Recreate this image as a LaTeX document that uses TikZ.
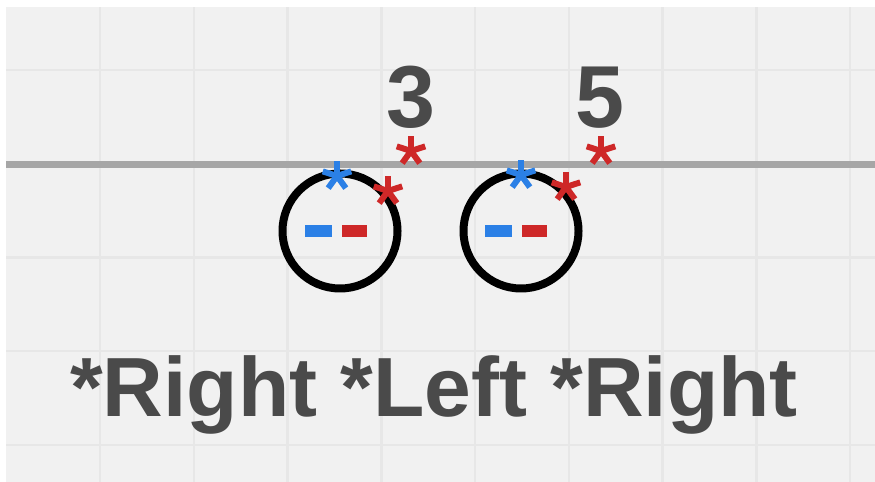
\documentclass[tikz,border=0pt]{standalone}
\usepackage{fontspec}
\setmainfont{Liberation Sans}
\usepackage{xcolor}
\definecolor{paper}{RGB}{241,241,241}
\definecolor{gridgray}{RGB}{231,231,231}
\definecolor{axisgray}{RGB}{166,166,166}
\definecolor{textgray}{RGB}{74,74,74}
\definecolor{starblue}{RGB}{43,128,230}
\definecolor{starred}{RGB}{206,40,40}

\begin{document}
\begin{tikzpicture}[
    x=1bp, y=1bp,
    gridline/.style={gridgray, line width=2.5bp},
    ring/.style={circle, draw=black, line width=8bp,
                 minimum size=115bp, inner sep=0pt},
    bar/.style={line width=12bp},
    numlabel/.style={font=\fontsize{88bp}{88bp}\selectfont\bfseries,
                     text=textgray, anchor=base, inner sep=0pt},
    aster/.pic={
        \foreach \a in {90,18,162,-54,-126}
            \draw[line width=6bp, pic actions] (0,0) -- (\a:15);
    }
]
    \useasboundingbox (0,0) rectangle (875,482);
    % Paper and grid
    \fill[white] (0,0) rectangle (875,482);
    \fill[paper] (6,0) rectangle (875,475);
    \foreach \k in {0,...,8}
        \draw[gridline] (100+93.75*\k,0) -- (100+93.75*\k,475);
    \foreach \k in {0,...,4}
        \draw[gridline] (6,37+93.75*\k) -- (875,37+93.75*\k);

    % Line
    \draw[axisgray, line width=7bp] (6,317) -- (875,317);

    % Numbers
    \node[numlabel] (n3) at (411,354) {3};
    \node[numlabel] (n5) at (600,354) {5};

    % Circle 1
    \node[ring] (c1) at (340,251) {};
    \draw[bar, starblue] (305,251) -- (332,251);
    \draw[bar, starred] (342,251) -- (367,251);
    \pic[starblue] at (337,306) {aster};
    \pic[starred] at (388,291) {aster};
    \pic[starred] at (411,331) {aster};

    % Circle 2
    \node[ring] (c2) at (521,251) {};
    \draw[bar, starblue] (485,251) -- (512,251);
    \draw[bar, starred] (522,251) -- (547,251);
    \pic[starblue] at (521,307) {aster};
    \pic[starred] at (566,295) {aster};
    \pic[starred] at (601,331) {aster};

    % Caption
    \node[numlabel, font=\fontsize{84bp}{84bp}\selectfont\bfseries]
        (cap) at (434,65) {*Right *Left *Right};
\end{tikzpicture}
\end{document}
